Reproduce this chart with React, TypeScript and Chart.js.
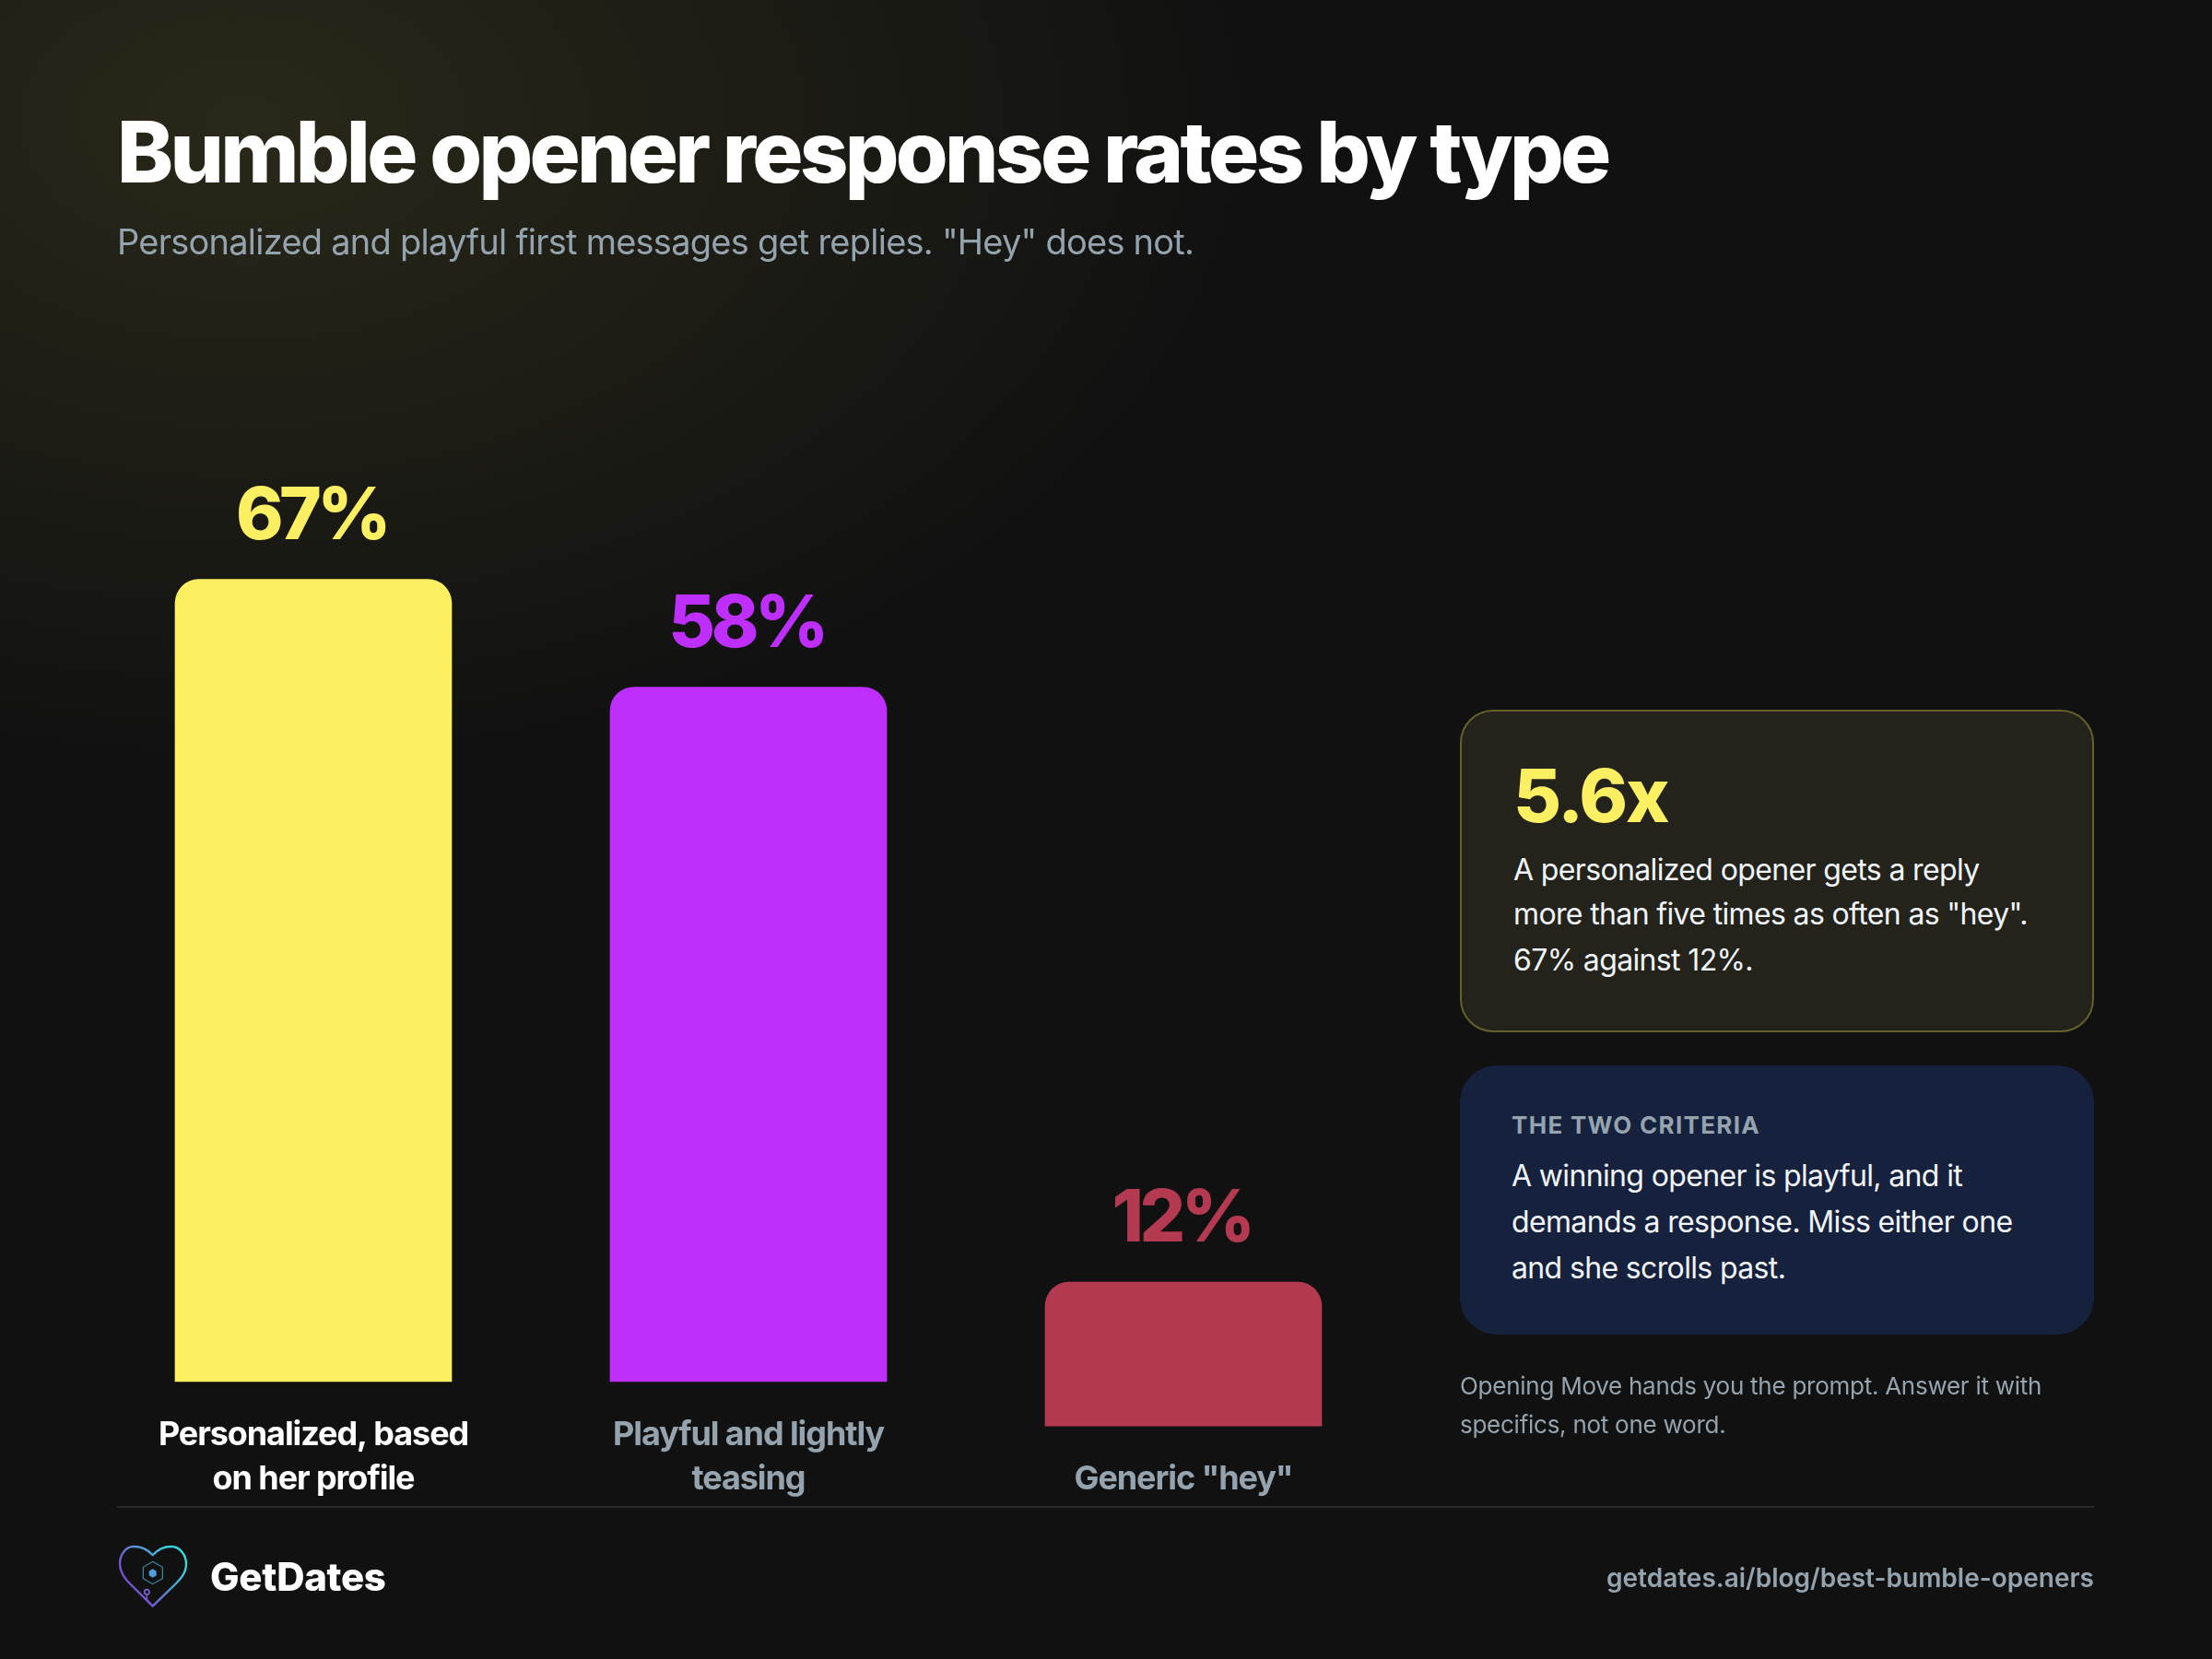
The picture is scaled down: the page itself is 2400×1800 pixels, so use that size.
import React, { useEffect, useRef } from "react";
import Chart from "chart.js/auto";

const categories = [
	["Personalized, based", "on her profile"],
	["Playful and lightly", "teasing"],
	["", 'Generic "hey"'],
];
const rates = [67, 58, 12];
// the third column sits lower on the page, its label only takes one line
const drop = [0, 0, 3.7];
const barColors = ["#FDEF62", "#BE2FFD", "#B33A50"];
const tickColors = ["#FFFFFF", "#94A3AD", "#94A3AD"];

const GREY = "#94A3AD";
const FONT = "Inter, sans-serif";

const valueLabels = {
	id: "valueLabels",
	beforeDraw(chart: any) {
		chart.ctx.letterSpacing = "-1.1px";
	},
	afterDatasetsDraw(chart: any) {
		const ctx = chart.ctx;
		const bars = chart.getDatasetMeta(0).data;
		ctx.save();
		ctx.font = `800 78px ${FONT}`;
		ctx.letterSpacing = "-4.5px";
		ctx.textAlign = "center";
		ctx.textBaseline = "alphabetic";
		bars.forEach((bar: any, i: number) => {
			ctx.fillStyle = barColors[i];
			ctx.fillText(`${rates[i]}%`, bar.x - 2, bar.y - 44);
		});
		ctx.restore();
	},
};

function Line({ x, y, size, weight = 400, color = "#F1F5F9", spacing = 0, right, children }: any) {
	// y is the text baseline
	const style: any = {
		position: "absolute",
		top: y - size * 0.3635,
		lineHeight: 0,
		fontSize: size,
		fontWeight: weight,
		color,
		letterSpacing: spacing,
		whiteSpace: "nowrap",
	};
	if (right !== undefined) style.right = right;
	else style.left = x;
	return <div style={style}>{children}</div>;
}

function Logo() {
	return (
		<svg
			width="330"
			height="110"
			viewBox="0 0 990 330"
			fill="none"
			style={{ position: "absolute", left: 110, top: 1650 }}
		>
			<defs>
				<linearGradient id="heart" gradientUnits="userSpaceOnUse" x1="265" y1="90" x2="85" y2="225">
					<stop offset="0" stopColor="#2DE8DC" />
					<stop offset="1" stopColor="#7D45CC" />
				</linearGradient>
			</defs>
			<path
				d="M167 112 C150 92 125 84 105 84 C78 84 60 112 60 140 C60 170 78 192 100 212 L167 278 L235 212 C258 190 276 170 276 140 C276 112 255 84 228 84 C208 84 184 92 167 112 Z"
				stroke="url(#heart)"
				strokeWidth="7"
				strokeLinejoin="round"
			/>
			<path d="M167 133 L199 151 L199 188 L167 206 L136 188 L136 151 Z" stroke="#3E8FA5" strokeWidth="3.5" />
			<path d="M167 157 L179 164 L179 178 L167 185 L155 178 L155 164 Z" fill="#4FA0E0" />
			<circle cx="148" cy="232" r="8" stroke="#8060D0" strokeWidth="5" />
			<path d="M148 240 L148 256 L167 278" stroke="#7D50CC" strokeWidth="5" />
		</svg>
	);
}

export default function App() {
	const chartRef = useRef<HTMLCanvasElement>(null);

	useEffect(() => {
		if (!chartRef.current) return;
		const chart = new Chart(chartRef.current, {
			type: "bar",
			data: {
				labels: categories as any,
				datasets: [
					{
						data: rates.map((r, i) => [-drop[i], r - drop[i]]) as any,
						backgroundColor: barColors,
						barThickness: 300,
						borderRadius: { topLeft: 26, topRight: 26, bottomLeft: 0, bottomRight: 0 },
						borderSkipped: false,
						clip: false as any,
					},
				],
			},
			options: {
				responsive: false,
				devicePixelRatio: 1,
				animation: false,
				layout: { padding: { left: 104, right: 880, top: 200, bottom: 137 } },
				plugins: {
					legend: { display: false },
					title: { display: false },
					tooltip: { enabled: false },
				},
				scales: {
					x: {
						border: { display: false },
						grid: { display: false, drawTicks: false },
						ticks: {
							autoSkip: false,
							maxRotation: 0,
							padding: 34,
							color: (c: any) => tickColors[c.index],
							font: { family: FONT, size: 36, weight: 700, lineHeight: 48 / 36 },
						},
					},
					y: { display: false, min: 0, max: 100 },
				},
			},
			plugins: [valueLabels],
		});
		return () => chart.destroy();
	}, []);

	return (
		<div
			style={{
				position: "relative",
				width: 2400,
				height: 1800,
				overflow: "hidden",
				fontFamily: FONT,
				background:
					"radial-gradient(ellipse 1100px 700px at 264px 130px, rgba(255,240,96,0.1), rgba(255,240,96,0) 100%), #111111",
			}}
		>
			<style>{"body{margin:0}"}</style>
			<canvas ref={chartRef} width={2400} height={1800} style={{ position: "absolute", left: 0, top: 0 }} />

			<Line x={127} y={198} size={92} weight={800} color="#FFFFFF" spacing={-3.68}>
				Bumble opener response rates by type
			</Line>
			<Line x={127} y={276} size={38} color={GREY} spacing={-0.76}>
				Personalized and playful first messages get replies. "Hey" does not.
			</Line>

			<div
				style={{
					position: "absolute",
					left: 1584,
					top: 770,
					width: 688,
					height: 350,
					boxSizing: "border-box",
					borderRadius: 36,
					background: "#23231B",
					border: "2px solid #66602E",
				}}
			/>
			<Line x={1642} y={892} size={80} weight={800} color="#FDEF62" spacing={-2.4}>
				5.6x
			</Line>
			<Line x={1642} y={956} size={32} spacing={-0.64}>A personalized opener gets a reply</Line>
			<Line x={1642} y={1004} size={32} spacing={-0.64}>more than five times as often as "hey".</Line>
			<Line x={1642} y={1054} size={32} spacing={-0.64}>67% against 12%.</Line>

			<div
				style={{
					position: "absolute",
					left: 1584,
					top: 1156,
					width: 688,
					height: 292,
					borderRadius: 40,
					background: "#16213E",
				}}
			/>
			<Line x={1640} y={1230} size={26} weight={700} color={GREY} spacing={1.3}>
				THE TWO CRITERIA
			</Line>
			<Line x={1640} y={1288} size={32} spacing={-0.64}>A winning opener is playful, and it</Line>
			<Line x={1640} y={1338} size={32} spacing={-0.64}>demands a response. Miss either one</Line>
			<Line x={1640} y={1388} size={32} spacing={-0.64}>and she scrolls past.</Line>

			<Line x={1584} y={1513} size={26} color={GREY} spacing={-0.26}>
				Opening Move hands you the prompt. Answer it with
			</Line>
			<Line x={1584} y={1555} size={26} color={GREY} spacing={-0.26}>
				specifics, not one word.
			</Line>

			<div style={{ position: "absolute", left: 127, top: 1634, width: 2145, height: 2, background: "#2A2A2A" }} />
			<Logo />
			<Line x={228} y={1726} size={42} weight={800} color="#FFFFFF" spacing={-0.3}>
				GetDates
			</Line>
			<Line right={128} y={1722} size={28} weight={600} color={GREY}>
				getdates.ai/blog/best-bumble-openers
			</Line>
		</div>
	);
}
